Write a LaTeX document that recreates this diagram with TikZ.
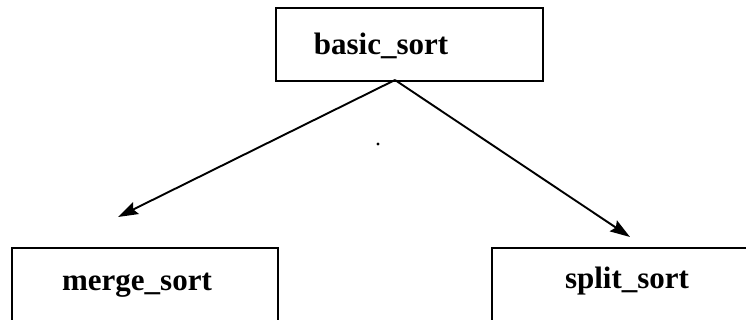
\documentclass[tikz,border=0pt]{standalone}
\usepackage{fontspec}
\setmainfont{Liberation Serif}
\usetikzlibrary{arrows.meta}
\begin{document}
\begin{tikzpicture}[x=1pt,y=-1pt,
	box/.style={draw,line width=2pt,rectangle,anchor=north west,inner sep=0pt},
	sortname/.style={font=\fontsize{31}{36}\selectfont\bfseries,anchor=base,inner sep=0pt},
	link/.style={line width=1.9pt,-{Stealth[length=20pt,width=13pt,inset=3pt]}}]
	\useasboundingbox (0,0) rectangle (746,320);
	\clip (0,0) rectangle (746,320);
	
	\node [box,minimum width=267pt,minimum height=73pt] (basic) at (275,7) {};
	\node [box,minimum width=266pt,minimum height=85pt] (merge) at (11,247) {};
	\node [box,minimum width=270pt,minimum height=85pt] (split) at (491,247) {};
	
	\node [sortname] (basictext) at (381,55) {basic\_sort};
	\node [sortname] (mergetext) at (137,290) {merge\_sort};
	\node [sortname] (splittext) at (627,288) {split\_sort};
	
	\coordinate (top) at (395,80);
	\coordinate (left) at (118,217);
	\coordinate (right) at (630,237);
	\draw [link] (top) -- (left);
	\draw [link] (top) -- (right);
	
	\fill (378,144) circle (1.6pt);
	
\end{tikzpicture}
\end{document}
